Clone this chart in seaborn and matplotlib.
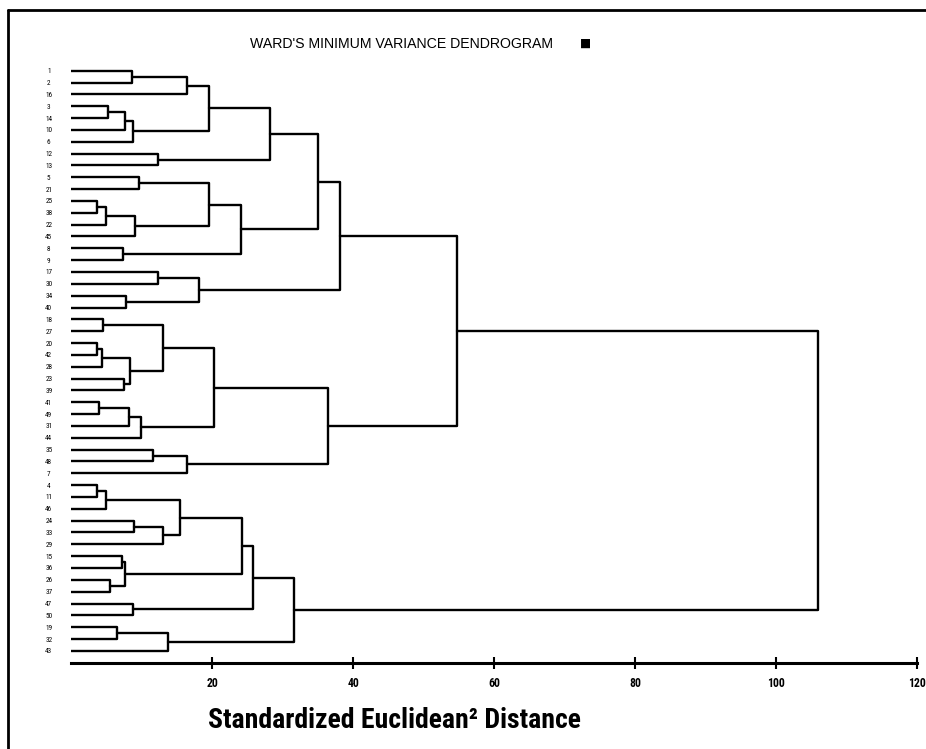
import numpy as np
import pandas as pd
import matplotlib
matplotlib.use('Agg')
import matplotlib.pyplot as plt
from matplotlib.lines import Line2D
import seaborn as sns

# leaf order, top to bottom
leaf_labels = ['1', '2', '16', '3', '14', '10', '6', '12', '13', '5', '21', '25', '38',
               '22', '45', '8', '9', '17', '30', '34', '40', '18', '27', '20', '42', '28',
               '23', '39', '41', '49', '31', '44', '35', '48', '7', '4', '11', '46', '24',
               '33', '29', '15', '36', '26', '37', '47', '50', '19', '32', '43']

# merges: node m{i} = merge_left[i] + merge_right[i] at merge_height[i]
merge_left = ['1', 'm0', '3', 'm2', 'm3', 'm1', '12', 'm5', '5', '25', 'm9', 'm10', 'm8',
              '8', 'm12', 'm7', '17', '34', 'm16', 'm15', '18', '20', 'm21', '23', 'm22',
              'm20', '41', 'm26', 'm27', 'm25', '35', 'm30', 'm29', 'm19', '4', 'm34', '24',
              'm36', 'm35', '15', '26', 'm39', 'm38', '47', 'm42', '19', 'm45', 'm44', 'm33']
merge_right = ['2', '16', '14', '10', '6', 'm4', '13', 'm6', '21', '38', '22', '45', 'm11',
               '9', 'm13', 'm14', '30', '40', 'm17', 'm18', '27', '42', '28', '39', 'm23',
               'm24', '49', '31', '44', 'm28', '48', '7', 'm31', 'm32', '11', '46', '33',
               '29', 'm37', '36', '37', 'm40', 'm41', '50', 'm43', '32', '43', 'm46', 'm47']
merge_height = [8.6, 16.5, 5.3, 7.6, 8.8, 19.5, 12.4, 28.2, 9.6, 3.7, 5.0, 9.1, 19.6,
                7.4, 24.1, 35.0, 12.4, 7.8, 18.2, 38.2, 4.6, 3.7, 4.4, 7.5, 8.3,
                13.1, 4.0, 8.2, 9.9, 20.3, 11.6, 16.5, 36.4, 54.7, 3.7, 4.9, 9.0,
                13.0, 15.5, 7.3, 5.5, 7.6, 24.2, 8.8, 25.8, 6.5, 13.8, 31.6, 105.9]

x_ticks = [20, 40, 60, 80, 100, 120]

# ------------------------------------------------------------
# build the dendrogram segments
# ------------------------------------------------------------
pos = {lab: i for i, lab in enumerate(leaf_labels)}
hgt = {lab: 0.0 for lab in leaf_labels}
rows = []
for i, (l, r, h) in enumerate(zip(merge_left, merge_right, merge_height)):
    yl, yr = pos[l], pos[r]
    xs = [hgt[l], h, h, hgt[r]]
    ys = [yl, yl, yr, yr]
    for k, (x, y) in enumerate(zip(xs, ys)):
        rows.append({'seg': i, 'order': k, 'dist': x, 'pos': y})
    pos[f'm{i}'] = (yl + yr) / 2
    hgt[f'm{i}'] = h
seg_df = pd.DataFrame(rows)

# ------------------------------------------------------------
# plot
# ------------------------------------------------------------
sns.set_style('white')
plt.rcParams['font.family'] = ['Liberation Sans', 'DejaVu Sans']
plt.rcParams['text.color'] = 'black'
plt.rcParams['xtick.color'] = 'black'
plt.rcParams['ytick.color'] = 'black'
narrow = ['Roboto Condensed', 'Liberation Sans Narrow', 'Liberation Sans', 'DejaVu Sans']

fig = plt.figure(figsize=(9.26, 7.49), dpi=100)
ax = fig.add_axes([71 / 926, 0.1152, (917.3 - 71) / 926, 0.7983])

sns.lineplot(data=seg_df, x='dist', y='pos', units='seg', estimator=None,
             sort=False, color='black', linewidth=1.7, ax=ax, legend=False)

ax.set_xlim(0, 120)
ax.set_ylim(50.0, -0.5)
ax.set_xlabel('')
ax.set_ylabel('')

for s in ['left', 'top', 'right']:
    ax.spines[s].set_visible(False)
ax.spines['bottom'].set_linewidth(2.2)
ax.spines['bottom'].set_color('black')

ax.set_xticks(x_ticks)
ax.set_xticklabels([str(t) for t in x_ticks], family=narrow, fontweight='bold',
                   fontsize=8.5, color='black')
ax.tick_params(axis='x', bottom=True, direction='inout', length=9, width=1.5,
               color='black', pad=6)

ax.set_yticks(range(len(leaf_labels)))
ax.set_yticklabels(leaf_labels, family=narrow, fontsize=5.2, color='black')
ax.tick_params(axis='y', left=False, length=0, pad=16)
for t in ax.get_yticklabels():
    t.set_horizontalalignment('center')

# title and axis label
fig.text(402 / 926, 1 - 48 / 749, "WARD'S MINIMUM VARIANCE DENDROGRAM",
         ha='center', va='baseline', fontsize=10.2, color='black')
fig.text(586 / 926, 1 - 43 / 749, '■', ha='center', va='center', fontsize=8.5,
         family='DejaVu Sans', color='black')
fig.text(394.5 / 926, 1 - 728 / 749, 'Standardized Euclidean² Distance',
         ha='center', va='baseline', fontsize=20, fontweight='bold', family=narrow,
         color='black')

# outer frame (left and top edges)
fig.add_artist(Line2D([8 / 926, 8 / 926], [0, 1 - 10 / 749], color='black', lw=2,
                      transform=fig.transFigure))
fig.add_artist(Line2D([8 / 926, 1], [1 - 10 / 749, 1 - 10 / 749], color='black', lw=2,
                      transform=fig.transFigure))

fig.savefig('out.png', dpi=100)
